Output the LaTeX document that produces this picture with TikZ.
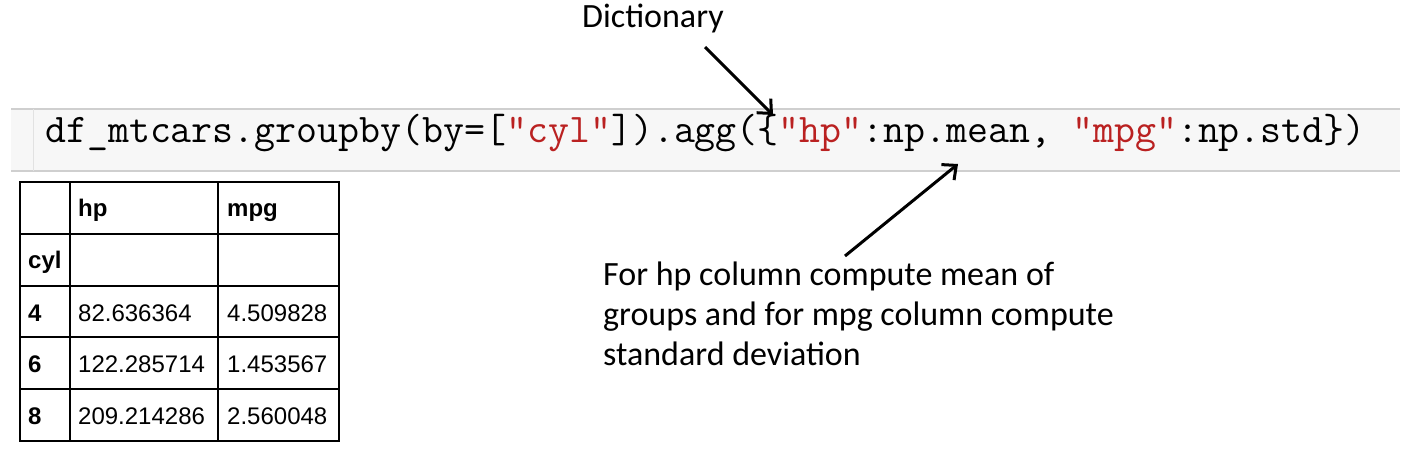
\documentclass[tikz,border=0pt]{standalone}
\usepackage{fontspec}
\setmainfont{Carlito}
\newfontfamily\tablefont{Liberation Sans}
\usetikzlibrary{arrows.meta}
\definecolor{codebg}{HTML}{F7F7F7}
\definecolor{codeline}{HTML}{CFCFCF}
\definecolor{strred}{HTML}{BA2121}
\begin{document}
\begin{tikzpicture}[x=1pt,y=-1pt,
	note/.style={font=\fontsize{34}{40}\selectfont, anchor=base west, inner sep=0pt},
	cell/.style={font=\tablefont\fontsize{24}{24}\selectfont, anchor=base west, inner sep=0pt},
	head/.style={cell, font=\tablefont\bfseries\fontsize{24}{24}\selectfont},
	pointer/.style={-{Straight Barb[length=11pt,width=20pt]}, line width=3pt}]
		\useasboundingbox (0,0) rectangle (1420,470);
		\fill[white] (0,0) rectangle (1420,470);
		\fill[codebg] (11,109) rectangle (1400,171);
		\draw[codeline, line width=1.5pt] (11,109)--(1400,109) (11,171)--(1400,171);
		\draw[codeline!60, line width=1pt] (33,109)--(33,171);
		\node[anchor=base west, inner sep=0pt, font=\ttfamily\fontsize{40.7}{41}\selectfont] (code) at (45,143)
			{df\_mtcars.groupby(by=[\textcolor{strred}{"cyl"}]).agg(\{\textcolor{strred}{"hp"}:np.mean, \textcolor{strred}{"mpg"}:np.std\})};
		\draw[line width=1.5pt] (20,182) rectangle (339,441);
		\foreach \x in {70,218} \draw[line width=1.5pt] (\x,182)--(\x,441);
		\foreach \y in {234,286,337,389} \draw[line width=1.5pt] (20,\y)--(339,\y);
		\node[head] (hphead) at (78,217) {hp};
		\node[head] (mpghead) at (227,217) {mpg};
		\node[head] (cylhead) at (28,269) {cyl};
		\foreach \cyl/\hp/\mpg/\y in {4/82.636364/4.509828/321, 6/122.285714/1.453567/372, 8/209.214286/2.560048/424}{
			\node[head] (cyl\cyl) at (28,\y) {\cyl};
			\node[cell] (hp\cyl) at (78,\y) {\hp};
			\node[cell] (mpg\cyl) at (227,\y) {\mpg};
		}
		\node[note] (dict) at (582,28) {Dictionary};
		\node[note] (aggline1) at (603,285) {For hp column compute mean of};
		\node[note] (aggline2) at (603,325) {groups and for mpg column compute};
		\node[note] (aggline3) at (603,365) {standard deviation};
		\coordinate (dicttail) at (705,47);
		\coordinate (dicttip) at (773,115);
		\coordinate (aggtail) at (845,256);
		\coordinate (aggtip) at (958,164);
		\draw[pointer] (dicttail)--(dicttip);
		\draw[pointer] (aggtail)--(aggtip);
	\end{tikzpicture}
\end{document}
